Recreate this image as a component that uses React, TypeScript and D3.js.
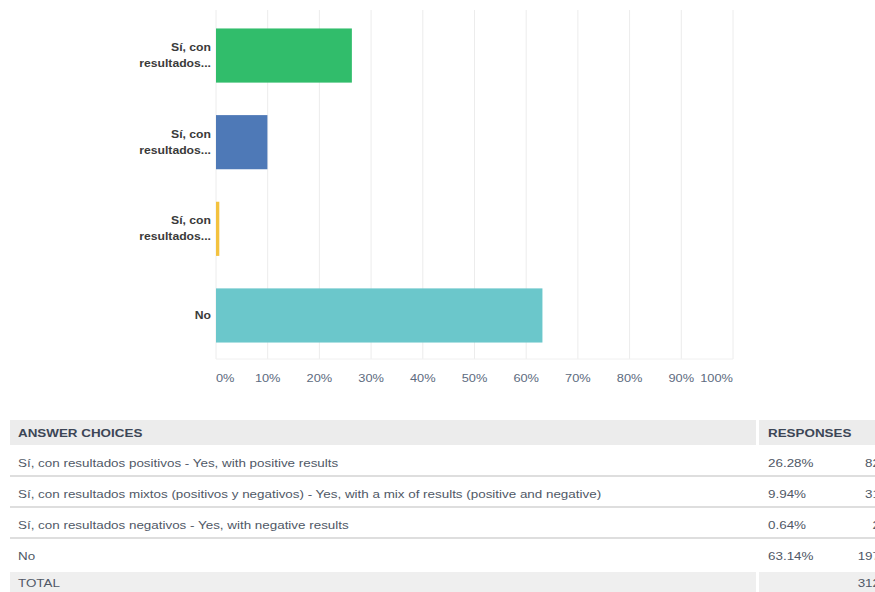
import * as d3 from 'd3';
import React, { useRef, useEffect } from 'react';

const W = 875;
const H = 592;

const shortLabels = [['Sí, con', 'resultados...'], ['Sí, con', 'resultados...'], ['Sí, con', 'resultados...'], ['No']];
const choices = [
  'Sí, con resultados positivos - Yes, with positive results',
  'Sí, con resultados mixtos (positivos y negativos) - Yes, with a mix of results (positive and negative)',
  'Sí, con resultados negativos - Yes, with negative results',
  'No',
];
const percents = [26.28, 9.94, 0.64, 63.14];
const counts = [82, 31, 2, 197];
const total = 312;
const colors = ['#31bd6b', '#4e79b7', '#f3c23f', '#6bc7cb'];
const ticks = [0, 10, 20, 30, 40, 50, 60, 70, 80, 90, 100];

const plot = { left: 216, right: 733, top: 12, bottom: 359 };
// the source is stretched sideways a little
const sx = 1.22;

const App = () => {
  const ref = useRef<SVGSVGElement>(null);

  useEffect(() => {
    if (!ref.current) return;
    const svg = d3.select(ref.current);
    svg.selectAll('*').remove();
    const font = '"Liberation Sans", Arial, sans-serif';
    const at = (x: number, y: number) => `translate(${x},${y}) scale(${sx},1)`;

    const idx = percents.map((_, i) => String(i));
    const x = d3.scaleLinear().domain([0, 100]).range([plot.left, plot.right]);
    const y = d3.scaleBand().domain(idx).range([plot.top, plot.bottom]).paddingInner(0.375).paddingOuter(0.19);

    // grid
    svg.append('g')
      .selectAll('line')
      .data(ticks)
      .join('line')
      .attr('x1', (d) => x(d))
      .attr('x2', (d) => x(d))
      .attr('y1', 10)
      .attr('y2', plot.bottom)
      .attr('stroke', '#ececec')
      .attr('stroke-width', 1);

    svg.append('line')
      .attr('x1', plot.left)
      .attr('x2', plot.right)
      .attr('y1', plot.bottom)
      .attr('y2', plot.bottom)
      .attr('stroke', '#f0f0f0');

    // bars
    svg.append('g')
      .selectAll('rect')
      .data(percents)
      .join('rect')
      .attr('x', x(0))
      .attr('y', (_, i) => y(String(i)) as number)
      .attr('width', (d) => Math.max(x(d) - x(0), 2))
      .attr('height', y.bandwidth())
      .attr('fill', (_, i) => colors[i]);

    // category labels
    const cat = svg.append('g')
      .attr('font-family', font)
      .attr('font-size', 10)
      .attr('font-weight', 'bold')
      .attr('fill', '#3a3a3a')
      .attr('text-anchor', 'end');
    shortLabels.forEach((lines, i) => {
      const cy = (y(String(i)) as number) + y.bandwidth() / 2;
      const t = cat.append('text').attr('transform', at(211, cy - (lines.length - 1) * 8 + 3.5));
      lines.forEach((l, j) => {
        t.append('tspan').attr('x', 0).attr('dy', j === 0 ? 0 : 16).text(l);
      });
    });

    // x tick labels
    svg.append('g')
      .attr('font-family', font)
      .attr('font-size', 10.5)
      .attr('fill', '#5d6b80')
      .selectAll('text')
      .data(ticks)
      .join('text')
      .attr('transform', (d) => at(x(d), 382))
      .attr('text-anchor', (d) => (d === 0 ? 'start' : d === 100 ? 'end' : 'middle'))
      .text((d) => `${d}%`);

    // table
    const tbl = svg.append('g').attr('font-family', font).attr('font-size', 11);
    tbl.append('rect').attr('x', 10).attr('y', 420).attr('width', 746).attr('height', 25).attr('fill', '#ececec');
    tbl.append('rect').attr('x', 759).attr('y', 420).attr('width', 130).attr('height', 25).attr('fill', '#ececec');
    tbl.append('text').attr('transform', at(18, 437)).attr('font-weight', 'bold').attr('fill', '#3c4656').text('ANSWER CHOICES');
    tbl.append('text').attr('transform', at(768, 437)).attr('font-weight', 'bold').attr('fill', '#3c4656').text('RESPONSES');

    const rows = d3.scaleBand().domain(idx).range([447, 571]);
    const ry = (i: number) => (rows(String(i)) as number) + rows.bandwidth() / 2 + 4;
    const rg = tbl.selectAll('g.row').data(choices).join('g').attr('class', 'row');
    rg.append('text')
      .attr('transform', (_, i) => at(18, ry(i)))
      .attr('fill', '#4f5866')
      .text((d) => d);
    rg.append('text')
      .attr('transform', (_, i) => at(768, ry(i)))
      .attr('fill', '#4f5866')
      .text((_, i) => `${percents[i].toFixed(2)}%`);
    rg.append('text')
      .attr('transform', (_, i) => at(880, ry(i)))
      .attr('text-anchor', 'end')
      .attr('fill', '#4f5866')
      .text((_, i) => counts[i]);
    rg.filter((_, i) => i < choices.length - 1)
      .append('rect')
      .attr('x', 10)
      .attr('width', 880)
      .attr('y', (_, i) => (rows(String(i)) as number) + rows.bandwidth() - 3)
      .attr('height', 2)
      .attr('fill', '#dedede');

    tbl.append('rect').attr('x', 10).attr('y', 572).attr('width', 746).attr('height', 20).attr('fill', '#efefef');
    tbl.append('rect').attr('x', 759).attr('y', 572).attr('width', 130).attr('height', 20).attr('fill', '#efefef');
    tbl.append('text').attr('transform', at(18, 587)).attr('fill', '#4f5866').text('TOTAL');
    tbl.append('text').attr('transform', at(880, 587)).attr('text-anchor', 'end').attr('fill', '#4f5866').text(total);
  }, []);

  return (
    <svg
      ref={ref}
      width={W}
      height={H}
      style={{ position: 'absolute', left: 0, top: 0, background: '#fff' }}
    />
  );
};

export default App;
